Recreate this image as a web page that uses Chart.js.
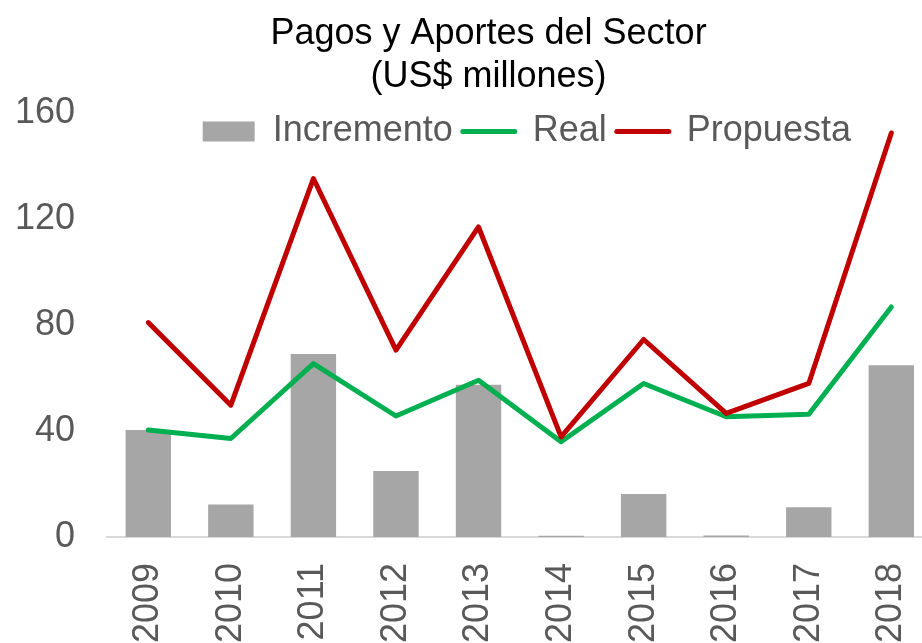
<!DOCTYPE html>
<html>
<head>
<meta charset="utf-8">
<script src="https://cdn.jsdelivr.net/npm/chart.js@4.4.1/dist/chart.umd.min.js"></script>
<style>
  html, body { margin: 0; padding: 0; background: #fff; overflow: hidden; }
  #chart { display: block; }
</style>
</head>
<body>
<canvas id="chart" width="962" height="643"></canvas>
<script>
const years = ['2009', '2010', '2011', '2012', '2013', '2014', '2015', '2016', '2017', '2018'];
const incremento = [40.4, 12.3, 69.1, 24.9, 57.5, 0.5, 16.2, 0.6, 11.2, 64.9];
const real = [40.4, 37.2, 65.5, 45.7, 59.2, 36.0, 58.0, 45.4, 46.4, 86.9];
const propuesta = [81.0, 49.8, 135.4, 70.6, 117.1, 37.8, 74.6, 46.7, 58.0, 152.6];
const yTicks = [0, 40, 80, 120, 160];

const font = '"Liberation Sans", Arial, sans-serif';
const gray = '#595959';

// legend sits over the top of the plot, like in the original
const legendOverlap = {
    id: 'legendOverlap',
    beforeLayout(chart) {
        const lg = chart.legend;
        if (lg && !lg._patched) {
            const fit = lg.fit;
            lg.fit = function () {
                fit.call(this);
                this._fullHeight = this.height;
                this.height = 10;
            };
            lg._patched = true;
        }
    },
    afterLayout(chart) {
        const lg = chart.legend;
        if (lg && lg._fullHeight) {
            lg.left += 7;
            lg.right += 7;
            lg.height = lg._fullHeight;
            lg.bottom = lg.top + lg._fullHeight;
        }
    }
};

const ctx = document.getElementById('chart').getContext('2d');
new Chart(ctx, {
    data: {
        labels: years,
        datasets: [{
            type: 'bar',
            label: 'Incremento',
            data: incremento,
            backgroundColor: '#a6a6a6',
            barPercentage: 0.55,
            categoryPercentage: 1,
            order: 2
        }, {
            type: 'line',
            label: 'Real',
            data: real,
            borderColor: '#00b050',
            backgroundColor: '#00b050',
            borderWidth: 5,
            pointRadius: 0,
            tension: 0,
            borderJoinStyle: 'round',
            borderCapStyle: 'round',
            order: 1
        }, {
            type: 'line',
            label: 'Propuesta',
            data: propuesta,
            borderColor: '#c00000',
            backgroundColor: '#c00000',
            borderWidth: 5,
            pointRadius: 0,
            tension: 0,
            borderJoinStyle: 'round',
            borderCapStyle: 'round',
            order: 0
        }]
    },
    plugins: [legendOverlap],
    options: {
        responsive: false,
        animation: false,
        layout: { padding: { left: 15, right: 0, top: 0, bottom: 0 } },
        plugins: {
            title: {
                display: true,
                text: ['Pagos y Aportes del Sector', '(US$ millones)'],
                color: '#000',
                font: { family: font, size: 36, weight: 'normal', lineHeight: 1.2 },
                padding: { top: 12, bottom: 5 }
            },
            legend: {
                position: 'top',
                fullSize: false,
                labels: {
                    color: gray,
                    font: { family: font, size: 36 },
                    usePointStyle: true,
                    pointStyleWidth: 52,
                    boxHeight: 20,
                    padding: 10,
                    sort: (a, b) => a.datasetIndex - b.datasetIndex,
                    generateLabels(chart) {
                        const items = Chart.defaults.plugins.legend.labels.generateLabels(chart);
                        items.forEach(item => {
                            const ds = chart.data.datasets[item.datasetIndex];
                            if (ds.type === 'bar') {
                                item.pointStyle = 'rect';
                                item.lineWidth = 0;
                            } else {
                                item.pointStyle = 'line';
                                item.lineWidth = 5;
                                item.strokeStyle = ds.borderColor;
                                item.lineCap = 'round';
                            }
                        });
                        return items;
                    }
                }
            },
            tooltip: { enabled: false }
        },
        scales: {
            x: {
                grid: { display: false, drawTicks: false },
                border: { display: true, color: '#d9d9d9', width: 2 },
                ticks: {
                    color: gray,
                    font: { family: font, size: 36 },
                    minRotation: 90,
                    maxRotation: 90,
                    padding: 26
                },
                afterFit(scale) { scale.height = 106; }
            },
            y: {
                min: 0,
                max: 160,
                afterBuildTicks(scale) {
                    scale.ticks = yTicks.map(v => ({ value: v }));
                },
                grid: { display: false, drawTicks: false },
                border: { display: false },
                ticks: {
                    color: gray,
                    font: { family: font, size: 36 },
                    padding: 32
                },
                afterFit(scale) { scale.width = 92; }
            },
            yRight: {
                position: 'right',
                display: true,
                grid: { display: false, drawTicks: false },
                border: { display: false },
                ticks: { display: false },
                afterFit(scale) { scale.width = 22; }
            }
        }
    }
});
</script>
</body>
</html>
